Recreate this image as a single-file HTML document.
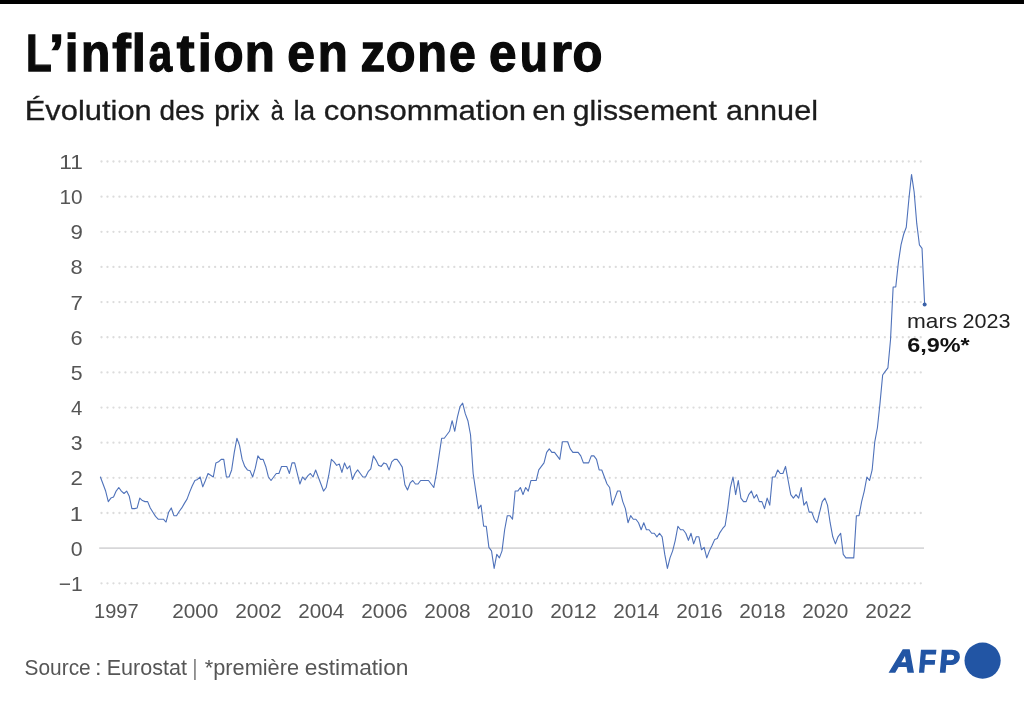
<!DOCTYPE html>
<html lang="fr"><head><meta charset="utf-8"><title>L’inflation en zone euro</title>
<style>
html,body{margin:0;padding:0;background:#fff;}
body{width:1024px;height:703px;overflow:hidden;}
svg{display:block;}
text{font-family:"Liberation Sans",sans-serif;}
</style></head><body>
<svg width="1024" height="703" viewBox="0 0 1024 703">
<rect x="0" y="0" width="1024" height="4" fill="#000"/>
<line x1="101.5" y1="583.30" x2="924" y2="583.30" stroke="#dcdcdc" stroke-width="2.3" stroke-linecap="round" stroke-dasharray="0.01 5.97"/>
<line x1="99.2" y1="548.15" x2="924" y2="548.15" stroke="#d7d7d9" stroke-width="1.8"/>
<line x1="101.5" y1="513.00" x2="924" y2="513.00" stroke="#dcdcdc" stroke-width="2.3" stroke-linecap="round" stroke-dasharray="0.01 5.97"/>
<line x1="101.5" y1="477.85" x2="924" y2="477.85" stroke="#dcdcdc" stroke-width="2.3" stroke-linecap="round" stroke-dasharray="0.01 5.97"/>
<line x1="101.5" y1="442.70" x2="924" y2="442.70" stroke="#dcdcdc" stroke-width="2.3" stroke-linecap="round" stroke-dasharray="0.01 5.97"/>
<line x1="101.5" y1="407.55" x2="924" y2="407.55" stroke="#dcdcdc" stroke-width="2.3" stroke-linecap="round" stroke-dasharray="0.01 5.97"/>
<line x1="101.5" y1="372.40" x2="924" y2="372.40" stroke="#dcdcdc" stroke-width="2.3" stroke-linecap="round" stroke-dasharray="0.01 5.97"/>
<line x1="101.5" y1="337.25" x2="924" y2="337.25" stroke="#dcdcdc" stroke-width="2.3" stroke-linecap="round" stroke-dasharray="0.01 5.97"/>
<line x1="101.5" y1="302.10" x2="924" y2="302.10" stroke="#dcdcdc" stroke-width="2.3" stroke-linecap="round" stroke-dasharray="0.01 5.97"/>
<line x1="101.5" y1="266.95" x2="924" y2="266.95" stroke="#dcdcdc" stroke-width="2.3" stroke-linecap="round" stroke-dasharray="0.01 5.97"/>
<line x1="101.5" y1="231.80" x2="924" y2="231.80" stroke="#dcdcdc" stroke-width="2.3" stroke-linecap="round" stroke-dasharray="0.01 5.97"/>
<line x1="101.5" y1="196.65" x2="924" y2="196.65" stroke="#dcdcdc" stroke-width="2.3" stroke-linecap="round" stroke-dasharray="0.01 5.97"/>
<line x1="101.5" y1="161.50" x2="924" y2="161.50" stroke="#dcdcdc" stroke-width="2.3" stroke-linecap="round" stroke-dasharray="0.01 5.97"/>
<text y="169.0" font-size="20.6" fill="#555555"><tspan x="59.25" textLength="23.65" lengthAdjust="spacingAndGlyphs">11</tspan></text>
<text y="204.15" font-size="20.6" fill="#555555"><tspan x="59.50" textLength="23.10" lengthAdjust="spacingAndGlyphs">10</tspan></text>
<text y="239.3" font-size="20.6" fill="#555555"><tspan x="70.50" textLength="12.40" lengthAdjust="spacingAndGlyphs">9</tspan></text>
<text y="274.45" font-size="20.6" fill="#555555"><tspan x="70.50" textLength="12.15" lengthAdjust="spacingAndGlyphs">8</tspan></text>
<text y="309.6" font-size="20.6" fill="#555555"><tspan x="70.50" textLength="12.40" lengthAdjust="spacingAndGlyphs">7</tspan></text>
<text y="344.75" font-size="20.6" fill="#555555"><tspan x="70.50" textLength="12.10" lengthAdjust="spacingAndGlyphs">6</tspan></text>
<text y="379.9" font-size="20.6" fill="#555555"><tspan x="70.75" textLength="11.85" lengthAdjust="spacingAndGlyphs">5</tspan></text>
<text y="415.05" font-size="20.6" fill="#555555"><tspan x="71.00" textLength="11.35" lengthAdjust="spacingAndGlyphs">4</tspan></text>
<text y="450.2" font-size="20.6" fill="#555555"><tspan x="70.75" textLength="11.85" lengthAdjust="spacingAndGlyphs">3</tspan></text>
<text y="485.35" font-size="20.6" fill="#555555"><tspan x="70.50" textLength="12.40" lengthAdjust="spacingAndGlyphs">2</tspan></text>
<text y="520.5" font-size="20.6" fill="#555555"><tspan x="69.75" textLength="13.15" lengthAdjust="spacingAndGlyphs">1</tspan></text>
<text y="555.65" font-size="20.6" fill="#555555"><tspan x="70.75" textLength="11.85" lengthAdjust="spacingAndGlyphs">0</tspan></text>
<text y="590.8" font-size="20.6" fill="#555555"><tspan x="58.75" textLength="24.00" lengthAdjust="spacingAndGlyphs">−1</tspan></text>
<text y="617.6" font-size="20.6" fill="#555555"><tspan x="94.05" textLength="44.50" lengthAdjust="spacingAndGlyphs">1997</tspan> <tspan x="172.20" textLength="46.25" lengthAdjust="spacingAndGlyphs">2000</tspan> <tspan x="235.20" textLength="46.50" lengthAdjust="spacingAndGlyphs">2002</tspan> <tspan x="298.30" textLength="46.00" lengthAdjust="spacingAndGlyphs">2004</tspan> <tspan x="361.30" textLength="46.25" lengthAdjust="spacingAndGlyphs">2006</tspan> <tspan x="424.30" textLength="46.25" lengthAdjust="spacingAndGlyphs">2008</tspan> <tspan x="487.20" textLength="46.25" lengthAdjust="spacingAndGlyphs">2010</tspan> <tspan x="550.20" textLength="46.50" lengthAdjust="spacingAndGlyphs">2012</tspan> <tspan x="613.30" textLength="46.00" lengthAdjust="spacingAndGlyphs">2014</tspan> <tspan x="676.30" textLength="46.25" lengthAdjust="spacingAndGlyphs">2016</tspan> <tspan x="739.30" textLength="46.25" lengthAdjust="spacingAndGlyphs">2018</tspan> <tspan x="802.20" textLength="46.25" lengthAdjust="spacingAndGlyphs">2020</tspan> <tspan x="865.20" textLength="46.50" lengthAdjust="spacingAndGlyphs">2022</tspan></text>
<polyline points="100.40,476.99 103.03,484.03 105.65,491.06 108.28,501.62 110.90,498.10 113.53,497.04 116.15,491.06 118.78,487.54 121.40,491.06 124.03,493.52 126.65,491.06 129.28,496.34 131.90,508.65 134.53,508.65 137.15,507.95 139.78,498.10 142.40,500.56 145.03,501.62 147.65,501.62 150.28,507.95 152.90,512.17 155.53,516.39 158.15,519.21 160.78,519.21 163.40,519.21 166.03,522.02 168.65,512.17 171.28,507.95 173.90,515.69 176.53,515.69 179.15,511.47 181.78,507.95 184.40,503.38 187.03,499.15 189.65,492.12 192.28,485.79 194.90,480.51 197.53,479.45 200.15,476.99 202.78,486.84 205.40,480.51 208.03,473.47 210.65,475.23 213.28,476.99 215.90,462.92 218.53,461.86 221.15,459.40 223.78,459.40 226.40,476.99 229.03,476.99 231.65,469.95 234.28,452.36 236.90,438.29 239.53,445.33 242.15,459.40 244.78,466.44 247.40,469.95 250.03,470.66 252.65,476.99 255.28,468.20 257.90,455.88 260.52,459.40 263.15,459.40 265.77,466.44 268.40,476.99 271.02,480.51 273.65,476.99 276.27,473.47 278.90,473.47 281.52,466.44 284.15,466.44 286.77,466.44 289.40,473.47 292.02,462.92 294.65,462.92 297.27,473.47 299.90,484.03 302.52,476.99 305.15,479.80 307.77,475.93 310.40,473.47 313.02,476.99 315.65,469.95 318.27,476.99 320.90,484.03 323.52,491.06 326.15,487.54 328.77,475.23 331.40,459.40 334.02,461.86 336.65,465.38 339.27,463.97 341.90,472.42 344.52,462.92 347.15,468.90 349.77,465.73 352.40,479.45 355.02,473.47 357.65,469.95 360.27,473.47 362.90,476.99 365.52,476.99 368.15,471.71 370.77,468.90 373.40,455.88 376.02,460.10 378.65,465.38 381.27,466.44 383.90,462.92 386.52,463.97 389.15,469.95 391.77,461.86 394.40,459.40 397.02,459.40 399.65,462.92 402.27,467.14 404.90,484.73 407.52,490.01 410.15,482.97 412.77,480.51 415.40,484.03 418.02,484.03 420.65,480.51 423.27,480.51 425.90,480.51 428.52,480.51 431.15,484.03 433.77,487.54 436.40,473.47 439.02,455.88 441.65,438.29 444.27,438.29 446.90,434.77 449.52,431.26 452.15,420.70 454.77,431.26 457.40,417.18 460.02,406.63 462.65,403.11 465.27,413.67 467.90,420.70 470.52,434.77 473.15,473.47 475.77,491.06 478.40,508.65 481.02,505.13 483.65,526.24 486.27,526.24 488.90,547.35 491.52,550.87 494.15,568.46 496.77,554.39 499.40,557.90 502.02,550.87 504.65,529.76 507.27,515.69 509.90,515.69 512.52,519.21 515.15,491.06 517.77,491.06 520.40,487.54 523.02,494.58 525.65,487.54 528.27,491.06 530.90,480.51 533.52,480.51 536.15,480.51 538.77,469.95 541.40,466.44 544.02,462.92 546.65,452.36 549.27,448.85 551.90,452.36 554.52,452.36 557.15,455.88 559.77,459.40 562.40,441.81 565.02,441.81 567.65,441.81 570.27,448.85 572.90,452.36 575.52,452.36 578.15,452.36 580.77,455.88 583.40,462.92 586.02,462.92 588.65,462.92 591.27,455.88 593.90,455.88 596.52,459.40 599.15,469.95 601.77,469.95 604.40,476.99 607.02,484.03 609.65,487.54 612.27,505.13 614.90,498.10 617.52,491.06 620.15,491.06 622.77,501.62 625.40,508.65 628.02,522.72 630.65,515.69 633.27,519.21 635.90,519.21 638.52,522.72 641.15,529.76 643.77,522.72 646.40,529.76 649.02,529.76 651.65,533.28 654.27,533.28 656.90,536.80 659.52,533.28 662.15,536.80 664.77,554.39 667.40,568.46 670.02,557.90 672.65,550.87 675.27,540.31 677.90,526.24 680.52,529.76 683.15,529.76 685.77,533.28 688.40,540.31 691.02,533.28 693.65,543.83 696.27,536.80 698.90,536.80 701.52,549.81 704.15,547.35 706.77,557.90 709.40,550.87 712.02,545.59 714.65,539.61 717.27,538.56 719.90,532.57 722.52,528.70 725.15,525.54 727.77,508.65 730.40,487.54 733.02,476.99 735.65,494.58 738.27,480.51 740.90,498.10 743.52,501.62 746.15,501.62 748.77,494.58 751.40,491.06 754.02,498.10 756.65,494.58 759.27,501.62 761.90,501.62 764.52,508.65 767.15,498.10 769.77,505.13 772.40,476.99 775.02,476.99 777.65,469.95 780.27,473.47 782.90,473.47 785.52,466.44 788.15,480.51 790.77,494.58 793.40,498.10 796.02,494.58 798.65,498.10 801.27,487.54 803.90,505.13 806.52,501.62 809.15,512.17 811.77,512.17 814.40,519.21 817.02,522.72 819.65,512.17 822.27,501.62 824.90,498.10 827.52,505.13 830.15,522.72 832.77,536.80 835.40,543.83 838.02,536.80 840.65,533.28 843.27,554.39 845.90,557.90 848.52,557.90 851.15,557.90 853.77,557.90 856.40,515.69 859.02,515.69 861.65,501.62 864.27,491.06 866.90,476.99 869.52,480.51 872.15,469.95 874.77,441.81 877.40,427.74 880.02,403.11 882.65,374.97 885.27,371.45 887.90,367.93 890.52,339.79 893.15,287.02 895.77,287.02 898.40,262.39 901.02,244.80 903.65,234.25 906.27,227.21 908.90,199.07 911.52,174.44 914.15,192.03 916.77,223.69 919.40,244.80 922.02,248.32 924.65,304.61" fill="none" stroke="#4f72ba" stroke-width="1.1" stroke-linejoin="round" stroke-linecap="round"/>
<circle cx="924.65" cy="304.61" r="2" fill="#3c62a8"/>
<text y="327.9" font-size="20.6" fill="#222"><tspan x="907.00" textLength="50.20" lengthAdjust="spacingAndGlyphs">mars</tspan> <tspan x="962.50" textLength="48.00" lengthAdjust="spacingAndGlyphs">2023</tspan></text>
<text y="352.1" font-size="19.8" font-weight="bold" fill="#111"><tspan x="907.20" textLength="62.55" lengthAdjust="spacingAndGlyphs">6,9%*</tspan></text>
<text y="71.4" font-size="51" font-weight="bold" fill="#0a0a0a" stroke="#0a0a0a" stroke-width="1.3"><tspan x="25.90" textLength="25.70" lengthAdjust="spacingAndGlyphs">L</tspan><tspan x="49.00" textLength="15.25" lengthAdjust="spacingAndGlyphs">’</tspan><tspan x="64.75" textLength="13.75" lengthAdjust="spacingAndGlyphs">i</tspan><tspan x="80.95" textLength="29.30" lengthAdjust="spacingAndGlyphs">n</tspan><tspan x="112.25" textLength="18.50" lengthAdjust="spacingAndGlyphs">f</tspan><tspan x="131.70" textLength="14.10" lengthAdjust="spacingAndGlyphs">l</tspan><tspan x="148.80" textLength="23.40" lengthAdjust="spacingAndGlyphs">a</tspan><tspan x="176.70" textLength="17.75" lengthAdjust="spacingAndGlyphs">t</tspan><tspan x="197.75" textLength="14.00" lengthAdjust="spacingAndGlyphs">i</tspan><tspan x="213.50" textLength="30.05" lengthAdjust="spacingAndGlyphs">o</tspan><tspan x="244.75" textLength="30.00" lengthAdjust="spacingAndGlyphs">n</tspan> <tspan x="287.25" textLength="27.70" lengthAdjust="spacingAndGlyphs">e</tspan><tspan x="317.85" textLength="30.00" lengthAdjust="spacingAndGlyphs">n</tspan> <tspan x="360.50" textLength="24.60" lengthAdjust="spacingAndGlyphs">z</tspan><tspan x="385.75" textLength="29.75" lengthAdjust="spacingAndGlyphs">o</tspan><tspan x="417.25" textLength="29.75" lengthAdjust="spacingAndGlyphs">n</tspan><tspan x="448.90" textLength="26.80" lengthAdjust="spacingAndGlyphs">e</tspan> <tspan x="489.00" textLength="27.45" lengthAdjust="spacingAndGlyphs">e</tspan><tspan x="519.70" textLength="28.10" lengthAdjust="spacingAndGlyphs">u</tspan><tspan x="550.75" textLength="21.20" lengthAdjust="spacingAndGlyphs">r</tspan><tspan x="572.50" textLength="29.90" lengthAdjust="spacingAndGlyphs">o</tspan></text>
<text y="119.6" font-size="28" fill="#1c1c1c" stroke="#1c1c1c" stroke-width="0.3"><tspan x="24.75" textLength="127.00" lengthAdjust="spacingAndGlyphs">Évolution</tspan> <tspan x="159.50" textLength="45.00" lengthAdjust="spacingAndGlyphs">des</tspan> <tspan x="214.25" textLength="45.25" lengthAdjust="spacingAndGlyphs">prix</tspan> <tspan x="270.75" textLength="13.00" lengthAdjust="spacingAndGlyphs">à</tspan> <tspan x="293.50" textLength="21.50" lengthAdjust="spacingAndGlyphs">la</tspan> <tspan x="323.75" textLength="202.25" lengthAdjust="spacingAndGlyphs">consommation</tspan> <tspan x="532.25" textLength="33.75" lengthAdjust="spacingAndGlyphs">en</tspan> <tspan x="572.75" textLength="144.25" lengthAdjust="spacingAndGlyphs">glissement</tspan> <tspan x="726.00" textLength="92.00" lengthAdjust="spacingAndGlyphs">annuel</tspan></text>
<text y="674.6" font-size="21.2" fill="#565656"><tspan x="24.50" textLength="66.25" lengthAdjust="spacingAndGlyphs">Source</tspan> <tspan x="95.00" textLength="6.55" lengthAdjust="spacingAndGlyphs">:</tspan> <tspan x="106.75" textLength="80.25" lengthAdjust="spacingAndGlyphs">Eurostat</tspan> <tspan x="193.05" textLength="3.90" lengthAdjust="spacingAndGlyphs">|</tspan> <tspan x="204.75" textLength="94.25" lengthAdjust="spacingAndGlyphs">*première</tspan> <tspan x="304.75" textLength="103.75" lengthAdjust="spacingAndGlyphs">estimation</tspan></text>
<text y="671.5" font-size="31.3" font-weight="bold" fill="#2255a4" stroke="#2255a4" stroke-width="1.3" font-style="italic"><tspan x="890.60" textLength="25.15" lengthAdjust="spacingAndGlyphs">A</tspan></text>
<g transform="translate(0,671.5) skewX(-5)"><text y="0" font-size="31.3" font-weight="bold" fill="#2255a4" stroke="#2255a4" stroke-width="1.3"><tspan x="917.80" textLength="17.15" lengthAdjust="spacingAndGlyphs">F</tspan></text></g>
<g transform="translate(0,671.5) skewX(-5)"><text y="0" font-size="31.3" font-weight="bold" fill="#2255a4" stroke="#2255a4" stroke-width="1.3"><tspan x="938.50" textLength="20.50" lengthAdjust="spacingAndGlyphs">P</tspan></text></g>
<circle cx="982.6" cy="660.6" r="18.1" fill="#2255a4"/>
</svg>
</body></html>
